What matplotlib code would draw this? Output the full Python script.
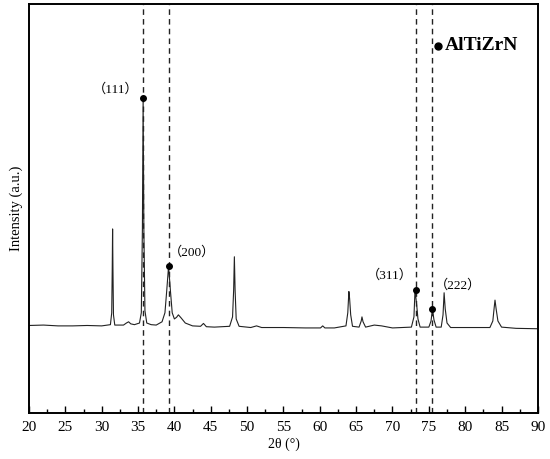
import matplotlib
matplotlib.use("Agg")
import matplotlib.pyplot as plt
from matplotlib.ticker import MultipleLocator

plt.rcParams["font.family"] = ["Liberation Serif", "Noto Sans CJK SC", "DejaVu Serif"]
plt.rcParams["mathtext.fontset"] = "stix"

# XRD trace, vertices (2theta in degrees, intensity a.u.)
two_theta = [20, 22, 24, 26, 28, 30, 31.2, 31.38, 31.45, 31.5, 31.55, 31.62, 31.8,
             33.0, 33.4, 33.7, 34.0, 34.5, 35.2, 35.45, 35.6, 35.7, 35.8, 35.95, 36.2,
             36.8, 37.5, 38.3, 38.7, 38.95, 39.2, 39.45, 39.7, 40.0, 40.3, 40.55,
             40.9, 41.5, 42.5, 43.6, 44.0, 44.4, 45.5, 47.6, 48.0, 48.15, 48.25, 48.35,
             48.5, 48.9, 50.5, 51.3, 52.0, 55, 58, 60.1, 60.4, 60.7, 62, 63.6, 63.85,
             64.0, 64.1, 64.25, 64.5, 65.4, 65.7, 65.8, 65.95, 66.3, 67.5, 68.5, 70,
             72.6, 72.95, 73.1, 73.2, 73.35, 73.5, 73.8, 75.0, 75.3, 75.5, 75.7, 76.0,
             76.7, 76.95, 77.1, 77.25, 77.5, 78.0, 83.4, 83.8, 84.0, 84.1, 84.25, 84.5,
             85.0, 87, 90]
intensity = [21.4, 21.5, 21.3, 21.3, 21.4, 21.3, 21.6, 24.5, 35, 45.0, 35, 24.0, 21.5,
             21.5, 22.0, 22.3, 21.8, 21.6, 22.0, 24.5, 45, 77.0, 45, 25.0, 22.0,
             21.6, 21.5, 22.3, 24.5, 30, 35.9, 30, 24.5, 23.0, 23.4, 24.0,
             23.3, 22.0, 21.3, 21.2, 21.9, 21.1, 21.0, 21.2, 23.5, 30, 38.2, 30,
             23.0, 21.2, 20.9, 21.3, 20.9, 20.9, 20.8, 20.8, 21.3, 20.8, 20.8, 21.3, 24.5,
             29.7, 28, 24.0, 21.2, 21.0, 22.5, 23.5, 22.3, 21.0, 21.5, 21.3, 20.8,
             21.0, 23.5, 30.1, 28.5, 26.0, 23.0, 21.0, 21.0, 22.5, 25.4, 22.8, 21.0,
             21.0, 24.0, 29.4, 25.5, 22.0, 20.9, 20.9, 22.5, 26.0, 27.6, 25.5, 22.5,
             21.0, 20.7, 20.6]

# marked AlTiZrN reflections
ref_pos = [35.7, 39.2, 73.2, 75.5]
ref_int = [77.0, 35.9, 30.1, 25.4]

hkl_labels = ["（111）", "（200）", "（311）", "（222）"]
hkl_x = [31.9, 42.4, 69.6, 79.0]
hkl_y = [79.0, 39.2, 33.6, 31.2]

fig = plt.figure(figsize=(5.5, 4.59), dpi=100)
ax = fig.add_axes([0.0527, 0.1002, 0.9253, 0.8911])

ax.plot(two_theta, intensity, color="#222222", lw=0.8)
for x in ref_pos:
    ax.axvline(x, color="#222222", lw=1.0, ls=(0, (4, 3)))
ax.plot(ref_pos, ref_int, "o", color="black", ms=4)

for lab, x, y in zip(hkl_labels, hkl_x, hkl_y):
    ax.text(x, y, lab, fontsize=9.5, ha="center", va="center")

ax.plot([76.25], [89.8], "o", color="black", ms=5)
ax.text(77.15, 89.8, "AlTiZrN", fontsize=14, fontweight="bold", va="center", ha="left")

ax.set_xlim(20, 90)
ax.set_ylim(0, 100)
ax.xaxis.set_major_locator(MultipleLocator(5))
ax.xaxis.set_minor_locator(MultipleLocator(2.5))
ax.tick_params(axis="x", which="both", direction="in", top=False, labelsize=11, pad=6)
ax.tick_params(axis="x", which="major", length=5, width=1)
ax.tick_params(axis="x", which="minor", length=3, width=1)
ax.set_yticks([])
for s in ax.spines.values():
    s.set_linewidth(1.4)

ax.set_xlabel("2θ (°)", fontsize=10, labelpad=2)
ax.set_ylabel("Intensity (a.u.)", fontsize=10.5, labelpad=4)

fig.savefig("out.png", dpi=100)
